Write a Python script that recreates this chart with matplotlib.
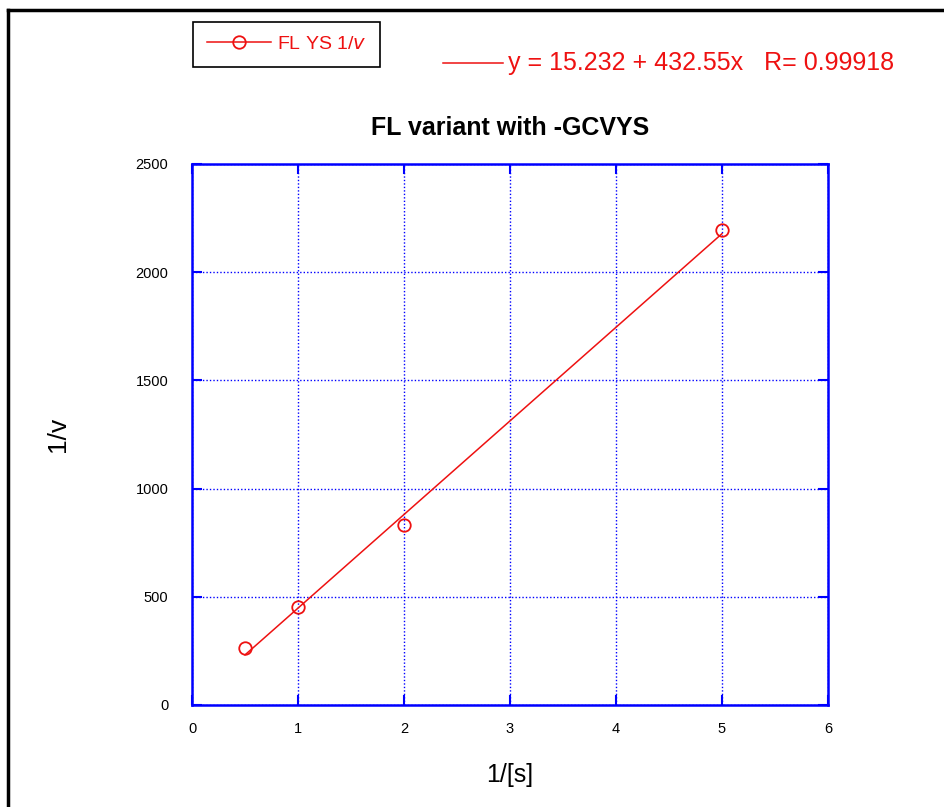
import matplotlib.pyplot as plt
from matplotlib.lines import Line2D
import numpy as np

plt.rcParams['font.family'] = ['Liberation Sans', 'DejaVu Sans']

# data
inv_s = [0.5, 1, 2, 5]
inv_v = [263, 453, 832, 2195]

# fitted line as printed on the chart
fit_intercept = 15.232
fit_slope = 432.55
fit_r = 0.99918

x_ticks = [0, 1, 2, 3, 4, 5, 6]
y_ticks = [0, 500, 1000, 1500, 2000, 2500]

fig = plt.figure(figsize=(9.45, 8.07), dpi=100)
ax = fig.add_axes([0.2032, 0.1264, 0.673, 0.6704])

# outer frame (only top and left edges visible)
fig.add_artist(Line2D([8 / 945, 8 / 945], [0, 1 - 10 / 807], transform=fig.transFigure,
                      color='black', lw=2.5))
fig.add_artist(Line2D([8 / 945, 1], [1 - 10 / 807, 1 - 10 / 807], transform=fig.transFigure,
                      color='black', lw=2.5))

fit_x = np.array([inv_s[0], inv_s[-1]])
ax.plot(fit_x, fit_intercept + fit_slope * fit_x, color='#ee1111', lw=1.1)
ax.plot(inv_s, inv_v, 'o', color='#ee1111', markerfacecolor='none',
        markersize=9, markeredgewidth=1.3)

ax.set_xlim(0, 6)
ax.set_ylim(0, 2500)
ax.set_xticks(x_ticks)
ax.set_yticks(y_ticks)
ax.grid(True, color='blue', linestyle=(0, (1, 1.5)), lw=1)
for sp in ax.spines.values():
    sp.set_color('blue')
    sp.set_linewidth(1.8)
ax.tick_params(direction='in', length=7, width=1.5, color='blue',
               top=True, right=True, labelsize=10.5, pad=12)
ax.tick_params(axis='y', pad=17)

ax.set_title('FL variant with -GCVYS', fontsize=18, fontweight='bold', pad=21)
ax.set_xlabel('1/[s]', fontsize=18, va='center')
ax.set_ylabel('1/v', fontsize=19, va='center')
ax.xaxis.set_label_coords(0.5, -0.129)
ax.yaxis.set_label_coords(-0.211, 0.5)

# legend box
leg_handle = Line2D([], [], color='#ee1111', lw=1.1, marker='o', markerfacecolor='none',
                    markersize=9, markeredgewidth=1.3)
leg = fig.legend([leg_handle], ['FL YS 1/$\\it{v}$'], loc='upper left',
                 bbox_to_anchor=(193 / 945, 1 - 22 / 807), fancybox=False,
                 framealpha=1, edgecolor='black', fontsize=14, handlelength=3.3,
                 handletextpad=0.3, borderpad=0.7, borderaxespad=0)
leg.get_frame().set_linewidth(1.2)
for t in leg.get_texts():
    t.set_color('#ee1111')

# fit equation label
fig.add_artist(Line2D([443 / 945, 503 / 945], [1 - 63 / 807, 1 - 63 / 807],
                      transform=fig.transFigure, color='#ee1111', lw=1.1))
fig.text(508 / 945, 1 - 63 / 807,
         f'y = {fit_intercept} + {fit_slope}x   R= {fit_r}',
         color='#ee1111', fontsize=18, va='center', ha='left')

fig.savefig('out.png', dpi=100)
